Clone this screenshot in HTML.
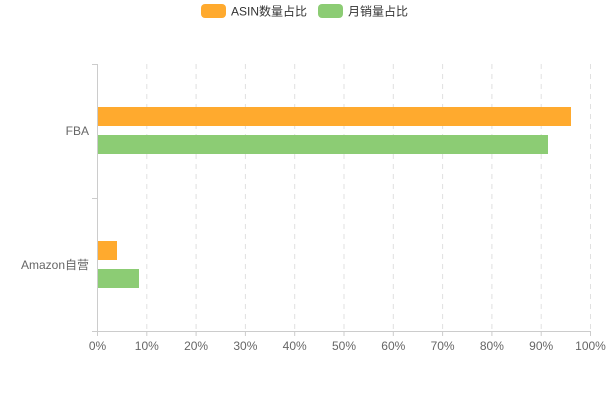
<!DOCTYPE html>
<html><head><meta charset="utf-8"><style>html,body{margin:0;padding:0;background:#fff}svg{display:block}text{font-family:"Liberation Sans","Noto Sans CJK SC",sans-serif;font-size:12px;fill:#666}</style></head>
<body>
<svg width="609" height="400" viewBox="0 0 609 400" xmlns="http://www.w3.org/2000/svg">
<rect x="201" y="4" width="25" height="14" rx="4" fill="#ffaa2e"/>
<text x="231" y="15.5" fill="#333" style="fill:#333">ASIN数量占比</text>
<rect x="318" y="4" width="25" height="14" rx="4" fill="#8ccc74"/>
<text x="348" y="15.5" style="fill:#333">月销量占比</text>
<g stroke="#e0e0e0" stroke-dasharray="5,5" stroke-width="1">
<line x1="146.8" y1="64" x2="146.8" y2="331"/><line x1="196.1" y1="64" x2="196.1" y2="331"/><line x1="245.4" y1="64" x2="245.4" y2="331"/><line x1="294.7" y1="64" x2="294.7" y2="331"/><line x1="344" y1="64" x2="344" y2="331"/><line x1="393.3" y1="64" x2="393.3" y2="331"/><line x1="442.6" y1="64" x2="442.6" y2="331"/><line x1="491.9" y1="64" x2="491.9" y2="331"/><line x1="541.2" y1="64" x2="541.2" y2="331"/><line x1="590.5" y1="64" x2="590.5" y2="331"/>
</g>
<g stroke="#ccc" stroke-width="1">
<line x1="97.5" y1="64" x2="97.5" y2="331.5"/><line x1="92" y1="64.5" x2="97.5" y2="64.5"/><line x1="92" y1="198.5" x2="97.5" y2="198.5"/><line x1="92" y1="331.5" x2="590.5" y2="331.5"/>
<line x1="97.5" y1="331" x2="97.5" y2="336"/><line x1="146.8" y1="331" x2="146.8" y2="336"/><line x1="196.1" y1="331" x2="196.1" y2="336"/><line x1="245.4" y1="331" x2="245.4" y2="336"/><line x1="294.7" y1="331" x2="294.7" y2="336"/><line x1="344" y1="331" x2="344" y2="336"/><line x1="393.3" y1="331" x2="393.3" y2="336"/><line x1="442.6" y1="331" x2="442.6" y2="336"/><line x1="491.9" y1="331" x2="491.9" y2="336"/><line x1="541.2" y1="331" x2="541.2" y2="336"/><line x1="590.5" y1="331" x2="590.5" y2="336"/>
</g>
<rect x="98" y="107" width="473" height="19" fill="#ffaa2e"/>
<rect x="98" y="135" width="450" height="19" fill="#8ccc74"/>
<rect x="98" y="241" width="19" height="19" fill="#ffaa2e"/>
<rect x="98" y="269" width="41" height="19" fill="#8ccc74"/>
<text x="89" y="135" text-anchor="end">FBA</text>
<text x="89" y="269" text-anchor="end">Amazon自营</text>
<g text-anchor="middle">
<text x="97.5" y="350">0%</text><text x="146.8" y="350">10%</text><text x="196.1" y="350">20%</text><text x="245.4" y="350">30%</text><text x="294.7" y="350">40%</text><text x="344" y="350">50%</text><text x="393.3" y="350">60%</text><text x="442.6" y="350">70%</text><text x="491.9" y="350">80%</text><text x="541.2" y="350">90%</text><text x="590.5" y="350">100%</text>
</g>
</svg>
</body></html>
